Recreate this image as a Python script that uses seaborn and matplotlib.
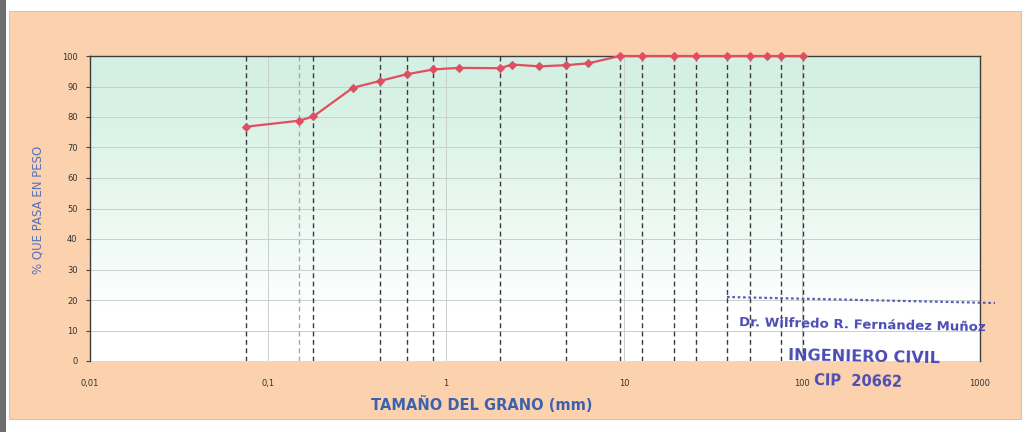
import numpy as np
import matplotlib
matplotlib.use("Agg")
import matplotlib.pyplot as plt
from matplotlib.patches import Rectangle
from matplotlib.lines import Line2D
import seaborn as sns

# Sieve openings (mm) and cumulative percent passing
sieve_mm = [0.075, 0.15, 0.18, 0.3, 0.425, 0.6, 0.85, 1.18, 2.0, 2.36, 3.35,
            4.75, 6.3, 9.5, 12.7, 19.05, 25.4, 38.1, 50.8, 63.5, 76.2, 101.6]
pct_passing = [76.8, 78.8, 80.2, 89.6, 91.8, 94.0, 95.6, 96.1, 96.0, 97.2, 96.6,
               97.0, 97.6, 100, 100, 100, 100, 100, 100, 100, 100, 100]

# Standard sieves marked with dashed reference lines
ref_sieves = [0.075, 0.15, 0.18, 0.425, 0.6, 0.85, 2.0, 4.75, 9.5, 12.7,
              19.05, 25.4, 38.1, 50.8, 76.2, 101.6]

x_ticks = [0.01, 0.1, 1, 10, 100, 1000]
x_tick_labels = ["0,01", "0,1", "1", "10", "100", "1000"]
y_ticks = list(range(0, 101, 10))

W, H = 1026, 432
sns.set_style("white")
plt.rcParams["font.family"] = ["DejaVu Sans"]

fig = plt.figure(figsize=(W / 100, H / 100), dpi=100)
fig.patch.set_facecolor("white")

# Peach report panel and scanner edge
fig.patches.append(Rectangle((9 / W, 1 - 419 / H), (1021 - 9) / W, (419 - 11) / H,
                             transform=fig.transFigure, facecolor="#fbd2ad",
                             edgecolor="#cfc6bd", lw=0.8, zorder=-5))
fig.patches.append(Rectangle((0, 0), 6 / W, 1, transform=fig.transFigure,
                             facecolor="#6e6e6e", edgecolor="none", zorder=-5))

ax = fig.add_axes([90 / W, 1 - 361 / H, 890 / W, (361 - 56) / H])
ax.set_zorder(1)
ax.set_facecolor("white")

# Green-to-white vertical gradient inside the plotting area
t = np.linspace(0, 1, 256)[:, None]
top = np.array([211, 240, 226]) / 255
fade = np.clip(t * 1.2, 0, 1) ** 1.3
grad = (1 - fade)[..., None] * top + fade[..., None] * np.ones(3)
grad = np.repeat(grad, 2, axis=1)
ax.imshow(grad, extent=[0, 1, 0, 1], transform=ax.transAxes, aspect="auto",
          zorder=0, origin="upper")

ax.set_xscale("log")
ax.set_xlim(0.01, 1000)
ax.set_ylim(0, 100)

ax.set_yticks(y_ticks)
ax.set_xticks(x_ticks)
ax.set_xticklabels(x_tick_labels)
ax.minorticks_off()
ax.tick_params(axis="y", length=3, width=0.8, color="#444444", labelsize=6,
               labelcolor="#333333", pad=6, left=True)
ax.tick_params(axis="x", length=0, labelsize=6, labelcolor="#333333", pad=13)

ax.grid(True, which="major", color="#c8d0cc", lw=0.7, zorder=1)
ax.set_axisbelow(True)

for side in ["left", "top", "right"]:
    ax.spines[side].set_color("#3d3d3d")
    ax.spines[side].set_linewidth(1.0)
ax.spines["bottom"].set_visible(False)

for s in ref_sieves:
    col = "#a8a8a8" if s == 0.15 else "#3a3a3a"
    ax.axvline(s, color=col, lw=1.0, ls=(0, (3.5, 2.5)), zorder=2)

sns.lineplot(x=sieve_mm, y=pct_passing, ax=ax, color="#e04e62", lw=1.6,
             marker="D", markersize=4, markeredgecolor="#e04e62",
             sort=True, zorder=4, clip_on=False)

fig.text(38 / W, 1 - 210 / H, "% QUE PASA EN PESO", rotation=90,
         color="#5670b8", fontsize=8.5, ha="center", va="center")
fig.text(482 / W, 1 - 405 / H, "TAMAÑO DEL GRANO (mm)", color="#3d62ad",
         fontsize=10.5, fontweight="bold", ha="center", va="center")

# Engineer's stamp
stamp = "#4b4cb4"
fig.add_artist(Line2D([727 / W, 995 / W], [1 - 297 / H, 1 - 303 / H],
                      transform=fig.transFigure, color="#5a5cc4", lw=1.6,
                      ls=(0, (1.2, 1.2)), zorder=5))
fig.text(862 / W, 1 - 325 / H, "Dr. Wilfredo R. Fernández Muñoz", color=stamp,
         fontsize=9.5, fontweight="bold", ha="center", va="center", rotation=-1.2,
         zorder=5)
fig.text(864 / W, 1 - 357 / H, "INGENIERO CIVIL", color=stamp,
         fontsize=11.5, fontweight="bold", ha="center", va="center", rotation=-1.2,
         zorder=5)
fig.text(858 / W, 1 - 381 / H, "CIP  20662", color=stamp,
         fontsize=10.5, fontweight="bold", ha="center", va="center", rotation=-1.2,
         zorder=5)

fig.savefig("out.png", dpi=100, facecolor=fig.get_facecolor())
